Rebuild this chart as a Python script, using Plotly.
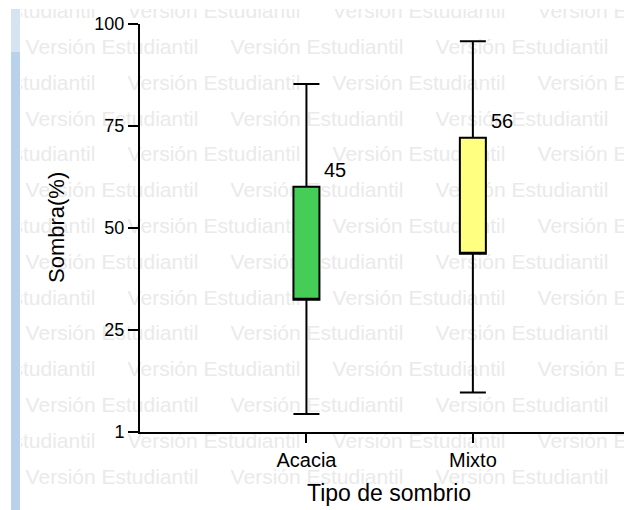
import plotly.graph_objects as go

# ---------------- data ----------------
categories = ["Acacia", "Mixto"]
cat_pos = [0, 1]
lower_whisker = [4.4, 9.7]
q1 = [32.4, 43.7]
q3 = [60.1, 72.1]
upper_whisker = [85.3, 95.8]
mean_labels = ["45", "56"]
box_colors = ["#46CD58", "#FFFF80"]
y_tickvals = [0, 25, 50, 75, 100]
y_ticktext = ["1", "25", "50", "75", "100"]
x_title = "Tipo de sombrio"
y_title = "Sombra(%)"
watermark = "Versión Estudiantil"

# ---------------- geometry (pixels) ----------------
W, H = 624, 510
PL, PR, PT, PB = 140, 624, 24, 432   # plot area edges
XR = [-1.0, 1.908]
YR = [0, 100]
PW = PR - PL
FONT = "Liberation Sans, Arial, sans-serif"


def fx(px):
    return px / W


def fy(py):
    return 1 - py / H


fig = go.Figure()

# watermark on a full-page helper subplot (x/y), drawn beneath the chart subplot
wx, wy = [], []
for k in range(15):
    yc = 13 + 35.8 * k
    start = 25 if k % 2 == 1 else 25 - 103
    for j in range(5):
        wx.append(start + 205 * j + 87)
        wy.append(yc)
fig.add_trace(go.Scatter(
    x=wx, y=wy, mode="text", text=[watermark] * len(wx),
    textfont=dict(family=FONT, size=21, color="#EAEAEA"),
    textposition="middle center", cliponaxis=False,
    hoverinfo="skip", showlegend=False, xaxis="x", yaxis="y",
))

box_w = 26 / PW * (XR[1] - XR[0])
for i, name in enumerate(categories):
    fig.add_trace(go.Box(
        x=[cat_pos[i]], q1=[q1[i]], median=[q1[i]], q3=[q3[i]],
        lowerfence=[lower_whisker[i]], upperfence=[upper_whisker[i]],
        width=box_w, whiskerwidth=1.0, boxpoints=False,
        fillcolor=box_colors[i], line=dict(color="black", width=2),
        name=name, showlegend=False, hoverinfo="skip",
        xaxis="x2", yaxis="y2",
    ))
    fig.add_annotation(
        x=cat_pos[i], y=q3[i], xref="x2", yref="y2",
        text=mean_labels[i], showarrow=False,
        xshift=29, yshift=17, xanchor="center", yanchor="middle",
        font=dict(family=FONT, size=20, color="black"),
    )

# axis titles
fig.add_annotation(
    x=fx(389), y=fy(493), xref="paper", yref="paper",
    text=x_title, showarrow=False, xanchor="center", yanchor="middle",
    font=dict(family=FONT, size=23, color="black"),
)
fig.add_annotation(
    x=fx(57), y=fy(228), xref="paper", yref="paper",
    text=y_title, showarrow=False, textangle=-90,
    xanchor="center", yanchor="middle",
    font=dict(family=FONT, size=22, color="black"),
)

# window chrome: white top strip, white left strip, blue bar
shapes = [
    dict(type="rect", xref="paper", yref="paper",
         x0=fx(0), x1=fx(W), y0=fy(0), y1=fy(9),
         fillcolor="white", line=dict(width=0), layer="above"),
    dict(type="rect", xref="paper", yref="paper",
         x0=fx(0), x1=fx(21), y0=fy(0), y1=fy(H),
         fillcolor="white", line=dict(width=0), layer="above"),
    dict(type="rect", xref="paper", yref="paper",
         x0=fx(11), x1=fx(20), y0=fy(52), y1=fy(H),
         fillcolor="#B9D1EA", line=dict(width=0), layer="above"),
    dict(type="rect", xref="paper", yref="paper",
         x0=fx(11), x1=fx(20), y0=fy(9), y1=fy(52),
         fillcolor="#D5E3F2", line=dict(width=0), layer="above"),
]

fig.update_layout(
    width=W, height=H,
    margin=dict(l=0, r=0, t=0, b=0, pad=0, autoexpand=False),
    paper_bgcolor="white", plot_bgcolor="rgba(0,0,0,0)",
    showlegend=False, shapes=shapes,
    xaxis=dict(domain=[0, 1], range=[0, W], visible=False,
               fixedrange=True, automargin=False),
    yaxis=dict(domain=[0, 1], range=[H, 0], visible=False,
               fixedrange=True, automargin=False),
    xaxis2=dict(
        domain=[fx(PL), fx(PR)], anchor="y2", automargin=False,
        range=XR, tickvals=cat_pos, ticktext=categories,
        showgrid=False, zeroline=False, showline=True,
        linecolor="black", linewidth=2, ticks="outside", ticklen=9,
        tickwidth=2, tickcolor="black",
        tickfont=dict(family=FONT, size=20, color="black"),
    ),
    yaxis2=dict(
        domain=[fy(PB), fy(PT)], anchor="x2", automargin=False,
        range=YR, tickvals=y_tickvals, ticktext=y_ticktext,
        showgrid=False, zeroline=False, showline=True,
        linecolor="black", linewidth=2, ticks="outside", ticklen=10,
        tickwidth=2, tickcolor="black",
        tickfont=dict(family=FONT, size=18, color="black"),
    ),
)

fig.write_html("out.html")
